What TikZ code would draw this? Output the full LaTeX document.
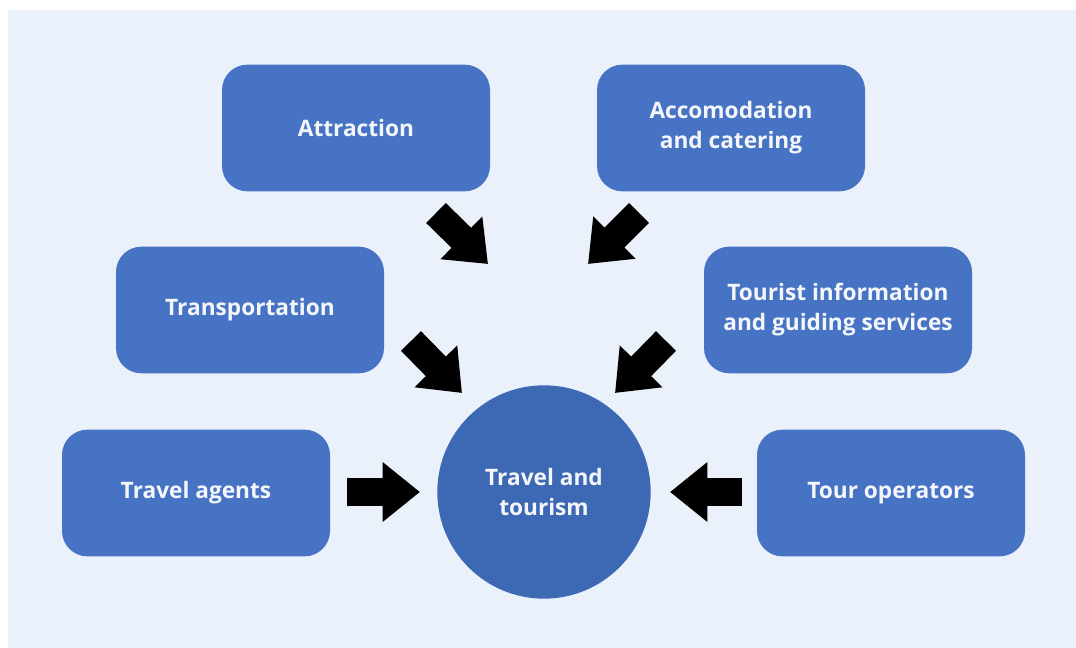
\documentclass[tikz,border=0pt]{standalone}
\usepackage{fontspec}
\setmainfont{Open Sans}
\usetikzlibrary{arrows.meta}
\definecolor{panel}{RGB}{234,241,250}
\definecolor{boxblue}{RGB}{70,115,196}
\definecolor{circblue}{RGB}{60,104,180}
\definecolor{txt}{RGB}{244,246,250}
\tikzset{
  box/.style={draw=none, fill=boxblue, rounded corners=19pt, minimum width=201pt, minimum height=95pt,
    text=txt, font=\fontsize{17}{22.5}\selectfont\bfseries, align=center, inner sep=0pt},
  hub/.style={circle, fill=circblue, minimum size=160pt, text=txt,
    font=\fontsize{17}{22.5}\selectfont\bfseries, align=center, inner sep=0pt},
  blockarrow/.style={line width=21pt, black, -{Triangle[length=28pt,width=43pt]}}
}
\begin{document}
\begin{tikzpicture}[x=0.75pt,y=-0.75pt]
\useasboundingbox (0,0) rectangle (1076,648);
\fill[white] (0,0) rectangle (1076,648);
\fill[panel] (8,10) rectangle (1076,648);

\node[box] (attr) at (356,128) {Attraction};
\node[box] (acc) at (731,128) {Accomodation\\and catering};
\node[box] (trans) at (250,310) {Transportation};
\node[box] (info) at (838,310) {Tourist information\\and guiding services};
\node[box] (agents) at (196,493) {Travel agents};
\node[box] (ops) at (891,493) {Tour operators};
\node[hub] (hub) at (544,492) {Travel and\\tourism};

\coordinate (a1s) at (436,213); \coordinate (a1e) at (488,264);
\coordinate (a2s) at (639,213); \coordinate (a2e) at (588,264);
\coordinate (a3s) at (411,341); \coordinate (a3e) at (462,393);
\coordinate (a4s) at (666,341); \coordinate (a4e) at (615,393);
\coordinate (a5s) at (347,492); \coordinate (a5e) at (420,492);
\coordinate (a6s) at (742,492); \coordinate (a6e) at (670,492);

\draw[blockarrow] (a1s) -- (a1e);
\draw[blockarrow] (a2s) -- (a2e);
\draw[blockarrow] (a3s) -- (a3e);
\draw[blockarrow] (a4s) -- (a4e);
\draw[blockarrow] (a5s) -- (a5e);
\draw[blockarrow] (a6s) -- (a6e);
\end{tikzpicture}
\end{document}
